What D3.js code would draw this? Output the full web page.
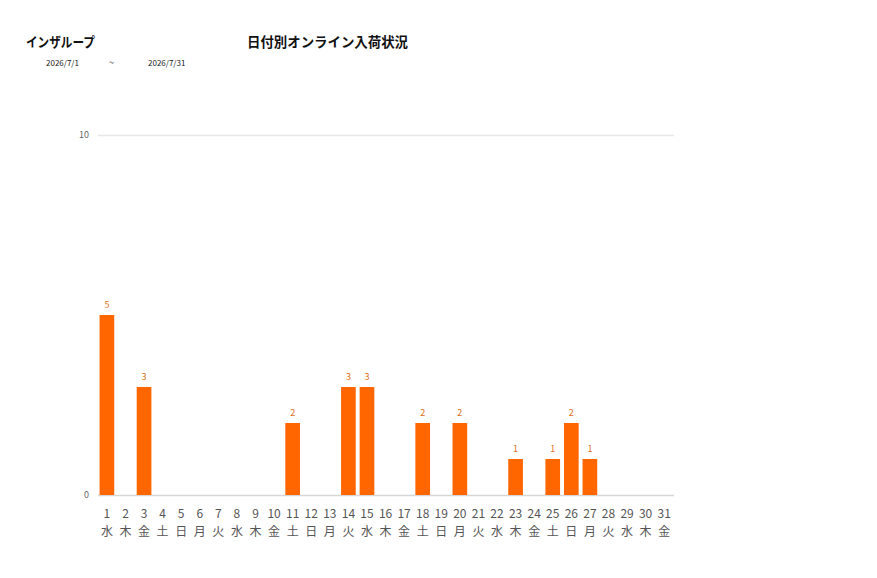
<!DOCTYPE html>
<html>
<head>
<meta charset="utf-8">
<script src="https://cdn.jsdelivr.net/npm/d3@7"></script>
<style>
  body { margin: 0; background: #fff; }
  svg { font-family: "Noto Sans CJK JP", "Noto Sans", sans-serif; }
</style>
</head>
<body>
<div id="chart"></div>
<script>
// chart data
const days = d3.range(1, 32).map(String);
const weekdays = ['水','木','金','土','日','月','火','水','木','金','土','日','月','火','水','木','金','土','日','月','火','水','木','金','土','日','月','火','水','木','金'];
const counts = [5,0,3,0,0,0,0,0,0,0,2,0,0,3,3,0,0,2,0,2,0,0,1,0,1,2,1,0,0,0,0];
const yTicks = [0, 10];

const width = 877, height = 578;
const svg = d3.select('#chart').append('svg')
    .attr('width', width)
    .attr('height', height);

// header
svg.append('text').attr('x', 26).attr('y', 47)
    .attr('font-size', 13.5).attr('font-weight', 'bold').attr('fill', '#111')
    .attr('textLength', 69).attr('lengthAdjust', 'spacingAndGlyphs')
    .text('インザループ');
svg.append('text').attr('x', 247).attr('y', 47)
    .attr('font-size', 13.5).attr('font-weight', 'bold').attr('fill', '#111')
    .attr('textLength', 161).attr('lengthAdjust', 'spacingAndGlyphs')
    .text('日付別オンライン入荷状況');
svg.append('text').attr('x', 46).attr('y', 66)
    .attr('font-size', 8).attr('fill', '#222').text('2026/7/1');
svg.append('text').attr('x', 109).attr('y', 66)
    .attr('font-size', 9).attr('fill', '#222').text('~');
svg.append('text').attr('x', 148).attr('y', 66)
    .attr('font-size', 8).attr('fill', '#222').text('2026/7/31');

const x = d3.scaleBand()
    .domain(days)
    .range([97.7, 673.4])
    .paddingInner(0.21)
    .paddingOuter(0.1);

const y = d3.scaleLinear()
    .domain([0, 10])
    .range([495, 135]);

// grid lines
svg.append('g').selectAll('line')
    .data(yTicks)
    .enter().append('line')
    .attr('x1', 98).attr('x2', 674)
    .attr('y1', d => y(d) + 0.5).attr('y2', d => y(d) + 0.5)
    .attr('stroke', d => d === 0 ? '#d6d6d6' : '#e6e6e6')
    .attr('stroke-width', 1.5);

svg.append('g').selectAll('text')
    .data(yTicks)
    .enter().append('text')
    .attr('x', 89).attr('y', d => y(d) + 3)
    .attr('text-anchor', 'end')
    .attr('font-size', 9).attr('fill', '#666')
    .text(d => d);

// bars
svg.append('g').selectAll('rect')
    .data(counts)
    .enter().append('rect')
    .attr('x', (d, i) => x(days[i]))
    .attr('y', d => y(d))
    .attr('width', x.bandwidth())
    .attr('height', d => y(0) - y(d))
    .attr('fill', '#ff6600');

// value labels (only non-zero days)
svg.append('g').selectAll('text')
    .data(counts.map((d, i) => ({ v: d, day: days[i] })).filter(d => d.v > 0))
    .enter().append('text')
    .attr('x', d => x(d.day) + x.bandwidth() / 2)
    .attr('y', d => y(d.v) - 7)
    .attr('text-anchor', 'middle')
    .attr('font-size', 9).attr('fill', '#e0701c')
    .text(d => d.v);

// x labels: day + weekday
svg.append('g').selectAll('text')
    .data(days)
    .enter().append('text')
    .attr('x', d => x(d) + x.bandwidth() / 2)
    .attr('y', 518)
    .attr('text-anchor', 'middle')
    .attr('font-size', 12).attr('fill', '#555')
    .text(d => d);

svg.append('g').selectAll('text')
    .data(weekdays)
    .enter().append('text')
    .attr('x', (d, i) => x(days[i]) + x.bandwidth() / 2)
    .attr('y', 536)
    .attr('text-anchor', 'middle')
    .attr('font-size', 12).attr('fill', '#555')
    .text(d => d);
</script>
</body>
</html>
